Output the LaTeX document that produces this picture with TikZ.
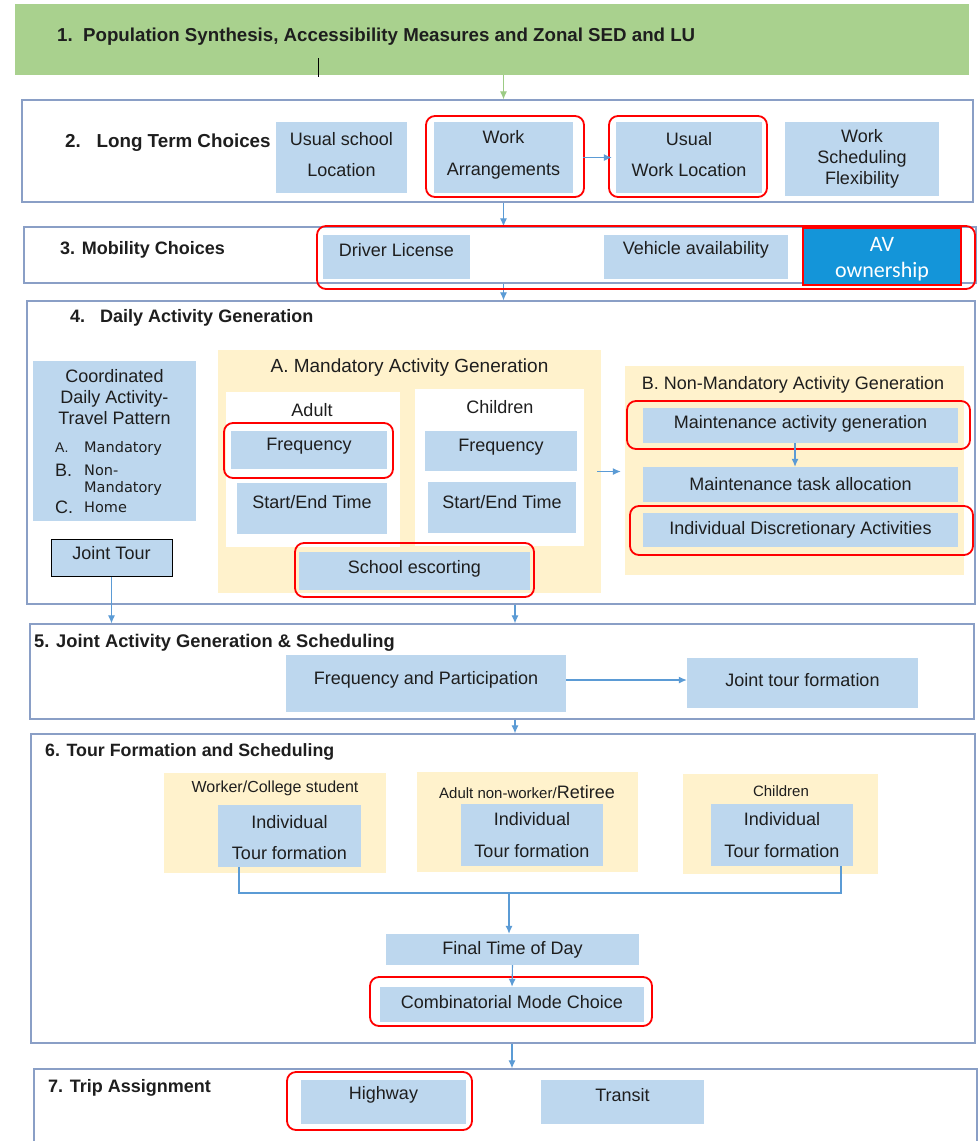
\documentclass[tikz,border=0pt]{standalone}
\usepackage{fontspec}
\setmainfont{Liberation Sans}
\newfontfamily\carl{Carlito}
\newfontfamily\dvs{DejaVu Sans}
\usetikzlibrary{arrows.meta}
\definecolor{lblue}{HTML}{BDD7EE}
\definecolor{ylw}{HTML}{FFF2CC}
\definecolor{grn}{HTML}{A9D18E}
\definecolor{grnar}{HTML}{9CCB84}
\definecolor{stg}{HTML}{8A9FC6}
\definecolor{arb}{HTML}{5B9BD5}
\definecolor{avb}{HTML}{1495D9}
\definecolor{txt}{HTML}{1E1E1E}
\newcommand\mkbox[6]{%
  \pgfmathsetmacro\cx{(#3+#5)/2}%
  \pgfmathsetmacro\cy{(#4+#6)/2}%
  \pgfmathsetmacro\ww{#5-#3}%
  \pgfmathsetmacro\hh{#6-#4}%
  \node[#2,minimum width=\ww pt,minimum height=\hh pt,inner sep=0pt] (#1) at (\cx,\cy) {};}
\begin{document}
\begin{tikzpicture}[x=1pt,y=-1pt,
  stage/.style={draw=stg, line width=1.3pt, fill=white},
  bb/.style={fill=lblue},
  yb/.style={fill=ylw},
  wb/.style={fill=white},
  ring/.style={draw=red, line width=1.8pt, rounded corners=9pt},
  lbl/.style={font=\fontsize{18}{21}\selectfont, text=txt, align=center, inner sep=0pt},
  sml/.style={font=\fontsize{16}{19}\selectfont, text=txt, align=center, inner sep=0pt},
  ttl/.style={font=\bfseries\fontsize{18}{21}\selectfont, text=txt, anchor=west, inner sep=0pt},
  lst/.style={font=\dvs\fontsize{14.5}{17}\selectfont, text=txt, anchor=west, inner sep=0pt},
  arr/.style={draw=arb, line width=1.1pt, -{Latex[length=8pt,width=7pt]}},
  cl/.style={draw=arb, line width=1.1pt}]
\useasboundingbox (0,0) rectangle (979,1141);
\clip (0,0) rectangle (979,1141);
\fill[white] (0,0) rectangle (979,1141);
\coordinate (spine) at (515,0);
% stages
\mkbox{s1}{fill=grn}{15}{4}{969}{75}
\mkbox{s2}{stage}{22}{100}{973}{202}
\mkbox{s3}{stage}{24}{227}{976}{283}
\mkbox{s4}{stage}{27}{301}{975}{604}
\mkbox{s5}{stage}{30}{624}{974}{719}
\mkbox{s6}{stage}{31}{734}{975}{1043}
\mkbox{s7}{stage}{34}{1069}{977}{1170}
% titles
\node[ttl, font=\bfseries\fontsize{18.7}{22}\selectfont] (t1) at (57,37) {1.\ \ Population Synthesis, Accessibility Measures and Zonal SED and LU};
\node[ttl, font=\bfseries\fontsize{18.8}{22}\selectfont] (t2) at (65,143) {2.\ \ \ Long Term Choices};
\node[ttl] (t3) at (60,250) {3. Mobility Choices};
\node[ttl] (t4) at (70,318) {4.\ \ \ Daily Activity Generation};
\node[ttl, font=\bfseries\fontsize{18.3}{21}\selectfont] (t5) at (34,643) {5. Joint Activity Generation \& Scheduling};
\node[ttl, font=\bfseries\fontsize{17.8}{21}\selectfont] (t6) at (45,752) {6. Tour Formation and Scheduling};
\node[ttl] (t7) at (48,1088) {7. Trip Assignment};
\draw[black, line width=1pt] (318,58) -- (318,77);
% row 2
\mkbox{usl}{bb}{276}{122}{407}{193}
\node[lbl,yshift=3pt] (uslt) at (usl) {Usual school\\[10pt]Location};
\mkbox{wa}{bb}{434}{122}{573}{193}
\node[lbl,yshift=2.5pt] (wat) at (wa) {Work\\[11pt]Arrangements};
\mkbox{uwl}{bb}{616}{122}{762}{193}
\node[lbl,yshift=3pt] (uwlt) at (uwl) {Usual\\[10pt]Work Location};
\mkbox{wsf}{bb}{785}{122}{939}{196}
\node[lbl] (wsft) at (wsf) {Work\\Scheduling\\Flexibility};
\draw[ring] (426,116) rectangle (584,197);
\draw[ring] (609,116) rectangle (767,197);
\draw[arr, shorten <=10pt, shorten >=4pt] (wa.east) -- (uwl.west);
% stage arrows
\draw[draw=grnar, line width=1.1pt, -{Latex[length=8pt,width=7pt]}] (s1.south -| wa) -- (s2.north -| wa);
\draw[arr] (s2.south -| wa) -- (s3.north -| wa);
\draw[arr] (s3.south -| wa) -- (s4.north -| wa);
% row 3
\mkbox{dl}{bb}{323}{235}{470}{279}
\node[lbl,yshift=7pt] (dlt) at (dl) {Driver License};
\mkbox{va}{bb}{604}{235}{788}{279}
\node[lbl,yshift=7pt] (vat) at (va) {Vehicle availability};
\mkbox{av}{fill=avb, draw=red, line width=1.8pt}{803}{228}{961}{285}
\node[font=\carl\fontsize{22}{26}\selectfont, text=white, align=center, inner sep=0pt, yshift=-3pt] (avt) at (av) {AV\\ownership};
\draw[ring] (317,226) rectangle (975,289);
% row 4 left
\mkbox{cdp}{bb}{33}{361}{196}{521}
\node[lbl] (cdpt) at (114.5,397) {Coordinated\\Daily Activity-\\Travel Pattern};
\node[lst, font=\fontsize{14}{16}\selectfont] (la) at (55,448) {A.};
\node[lst] (lat) at (84,448) {Mandatory};
\node[lst, font=\fontsize{18}{21}\selectfont] (lb) at (55,470) {B.};
\node[lst] (lbt) at (84,470) {Non-};
\node[lst] (lbt2) at (84,488) {Mandatory};
\node[lst, font=\fontsize{18}{21}\selectfont] (lc) at (55,507) {C.};
\node[lst] (lct) at (84,507) {Home};
\mkbox{jt}{bb, draw=black, line width=1pt}{51}{539}{172}{576}
\node[lbl,yshift=4pt] (jtt) at (jt) {Joint Tour};
\draw[arr] (jt.south) -- (jt.south |- s5.north);
% mandatory
\mkbox{mag}{yb}{218}{350}{601}{593}
\node[lbl, font=\fontsize{19}{22}\selectfont] (magt) at (409.5,368) {A. Mandatory Activity Generation};
\mkbox{ad}{wb}{226}{392}{400}{547}
\node[lbl] (adt) at (312,410) {Adult};
\mkbox{af}{bb}{231}{431}{387}{469}
\node[lbl,yshift=4pt] (aft) at (af) {Frequency};
\mkbox{ase}{bb}{237}{483}{387}{534}
\node[lbl,yshift=6.5pt] (aset) at (ase) {Start/End Time};
\draw[ring] (224,423) rectangle (393,478);
\mkbox{ch}{wb}{415}{389}{584}{546}
\node[lbl] (cht) at (500,407) {Children};
\mkbox{cf}{bb}{425}{431}{577}{471}
\node[lbl,yshift=4pt] (cft) at (cf) {Frequency};
\mkbox{cse}{bb}{428}{482}{576}{533}
\node[lbl,yshift=5.5pt] (cset) at (cse) {Start/End Time};
\mkbox{se}{bb}{299}{552}{530}{590}
\node[lbl,yshift=2pt] (set) at (se) {School escorting};
\draw[ring] (295,543) rectangle (534,597);
% non-mandatory
\mkbox{nmag}{yb}{625}{366}{964}{575}
\node[lbl] (nmagt) at (793,385) {B. Non-Mandatory Activity Generation};
\mkbox{mg}{bb}{643}{408}{958}{443}
\node[lbl,yshift=1.5pt] (mgt) at (mg) {Maintenance activity generation};
\mkbox{mta}{bb}{643}{467}{958}{502}
\node[lbl] (mtat) at (mta) {Maintenance task allocation};
\mkbox{ida}{bb}{643}{513}{958}{547}
\node[lbl] (idat) at (ida) {Individual Discretionary Activities};
\draw[ring] (627,401) rectangle (970,449);
\draw[ring] (630,506) rectangle (973,555);
\draw[arr] (mg.south -| 795,0) -- (mta.north -| 795,0);
\draw[arr, shorten <=-4pt, shorten >=4pt] (mag.east) -- (mag.east -| nmag.west);
\draw[arr] (s4.south -| spine) -- (s5.north -| spine);
% row 5
\mkbox{fp}{bb}{286}{655}{566}{712}
\node[lbl,yshift=3.5pt] (fpt) at (fp) {Frequency and Participation};
\mkbox{jtf}{bb}{687}{658}{918}{708}
\node[lbl,yshift=3pt] (jtft) at (jtf) {Joint tour formation};
\draw[arr] (fp.east |- 0,680) -- (jtf.west |- 0,680);
\draw[arr] (s5.south -| spine) -- (s6.north -| spine);
% row 6
\mkbox{g1}{yb}{164}{773}{386}{873}
\node[sml] (g1t) at (275,788) {Worker/College student};
\mkbox{b1}{bb}{218}{805}{361}{867}
\node[lbl,yshift=-1.5pt] (b1t) at (b1) {Individual\\[10pt]Tour formation};
\mkbox{g2}{yb}{417}{772}{638}{872}
\node[lbl] (g2t) at (527,792) {{\fontsize{15}{18}\selectfont Adult non-worker/}Retiree};
\mkbox{b2}{bb}{461}{804}{603}{866}
\node[lbl] (b2t) at (b2) {Individual\\[11pt]Tour formation};
\mkbox{g3}{yb}{683}{774}{878}{874}
\node[sml, font=\fontsize{15}{18}\selectfont] (g3t) at (781,791) {Children};
\mkbox{b3}{bb}{711}{804}{853}{866}
\node[lbl] (b3t) at (b3) {Individual\\[11pt]Tour formation};
\coordinate (j1) at (239,893);
\coordinate (j3) at (841,893);
\coordinate (jm) at (509,893);
\draw[cl] (b1.south -| j1) -- (j1) -- (j3) -- (b3.south -| j3);
\mkbox{ftd}{bb}{386}{934}{639}{965}
\node[lbl] (ftdt) at (ftd) {Final Time of Day};
\draw[arr] (jm) -- (ftd.north -| jm);
\mkbox{cmc}{bb}{380}{987}{644}{1022}
\node[lbl,yshift=2pt] (cmct) at (cmc) {Combinatorial Mode Choice};
\draw[ring] (370,977) rectangle (652,1026);
\draw[arr] (ftd.south) -- (cmc.north);
\draw[arr] (s6.south -| cmc) -- (s7.north -| cmc);
% row 7
\mkbox{hw}{bb}{301}{1080}{466}{1124}
\node[lbl,yshift=7pt] (hwt) at (hw) {Highway};
\draw[ring] (287,1072) rectangle (472,1130);
\mkbox{tr}{bb}{541}{1080}{704}{1124}
\node[lbl,yshift=7pt] (trt) at (tr) {Transit};
\end{tikzpicture}
\end{document}
